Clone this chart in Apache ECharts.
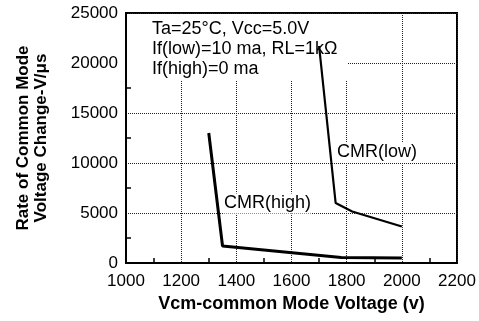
<!DOCTYPE html>
<html>
<head>
<meta charset="utf-8">
<script src="https://cdn.jsdelivr.net/npm/echarts@6/dist/echarts.min.js"></script>
<style>
html,body{margin:0;padding:0;background:#fff;}
#chart{width:479px;height:321px;}
</style>
</head>
<body>
<div id="chart"></div>
<script>
// ---- data ----
const cmrHighVcm = [1300, 1350, 1780, 2000];
const cmrHighRate = [13000, 1700, 550, 500];
const cmrLowVcm = [1700, 1760, 1820, 2000];
const cmrLowRate = [21700, 6000, 5150, 3650];
const seriesNames = ['CMR(high)', 'CMR(low)'];
const conditionLines = ['Ta=25°C, Vcc=5.0V', 'If(low)=10 ma, RL=1kΩ', 'If(high)=0 ma'];
const xTitle = 'Vcm-common Mode Voltage (v)';
const yTitle = 'Rate of Common Mode\nVoltage Change-V/μs';

const FONT = '"Liberation Sans", Arial, sans-serif';
const pairs = (xs, ys) => xs.map((x, i) => [x, ys[i]]);
const plain = v => String(v);

const chart = echarts.init(document.getElementById('chart'), null, {renderer: 'canvas'});
const labelStyle = {
  show: true, position: 'inside', color: '#000', fontFamily: FONT, fontSize: 18,
  backgroundColor: '#fff', padding: [1, 1]
};
chart.setOption({
  animation: false,
  backgroundColor: '#fff',
  grid: {left: 126, right: 22, top: 13, bottom: 58, show: true, borderColor: '#000', borderWidth: 2, backgroundColor: 'transparent'},
  xAxis: {
    type: 'value', min: 1000, max: 2200, interval: 200,
    name: xTitle, nameLocation: 'middle', nameGap: 22,
    nameTextStyle: {fontFamily: FONT, fontSize: 18, fontWeight: 'bold', color: '#000'},
    axisLine: {show: true, lineStyle: {color: '#000', width: 2}},
    axisTick: {show: false, inside: true},
    minorTick: {show: true, splitNumber: 2, length: 5, lineStyle: {color: '#000', width: 1.5}},
    axisLabel: {fontFamily: FONT, fontSize: 17, color: '#000', margin: 10, formatter: plain},
    splitLine: {show: true, lineStyle: {color: '#222', type: [1, 1], width: 1}}
  },
  yAxis: {
    type: 'value', min: 0, max: 25000, interval: 5000,
    name: yTitle, nameLocation: 'middle', nameGap: 76, nameRotate: 90,
    nameTextStyle: {fontFamily: FONT, fontSize: 17, fontWeight: 'bold', color: '#000', lineHeight: 18},
    axisLine: {show: true, lineStyle: {color: '#000', width: 2}},
    axisTick: {show: false, inside: true},
    minorTick: {show: true, splitNumber: 2, length: 5, lineStyle: {color: '#000', width: 1.5}},
    axisLabel: {fontFamily: FONT, fontSize: 17, color: '#000', margin: 8, formatter: plain},
    splitLine: {show: true, lineStyle: {color: '#222', type: [1, 1], width: 1}}
  },
  graphic: [
    {type: 'rect', z: 1, shape: {x: 127, y: 14, width: 220, height: 67}, style: {fill: '#fff'}},
    {type: 'text', z: 10, x: 152, y: 19, style: {text: conditionLines.join('\n'), font: '18px ' + FONT, lineHeight: 20, fill: '#000'}}
  ],
  series: [
    {
      name: seriesNames[0], type: 'line', data: pairs(cmrHighVcm, cmrHighRate),
      symbol: 'none', lineStyle: {color: '#000', width: 3}, z: 3,
      markPoint: {symbol: 'circle', symbolSize: 0, label: Object.assign({}, labelStyle, {formatter: seriesNames[0]}),
        data: [{coord: [1513, 5950]}]}
    },
    {
      name: seriesNames[1], type: 'line', data: pairs(cmrLowVcm, cmrLowRate),
      symbol: 'none', lineStyle: {color: '#000', width: 2.2}, z: 3,
      markPoint: {symbol: 'circle', symbolSize: 0, label: Object.assign({}, labelStyle, {formatter: seriesNames[1]}),
        data: [{coord: [1910, 11050]}]}
    }
  ]
});
</script>
</body>
</html>
